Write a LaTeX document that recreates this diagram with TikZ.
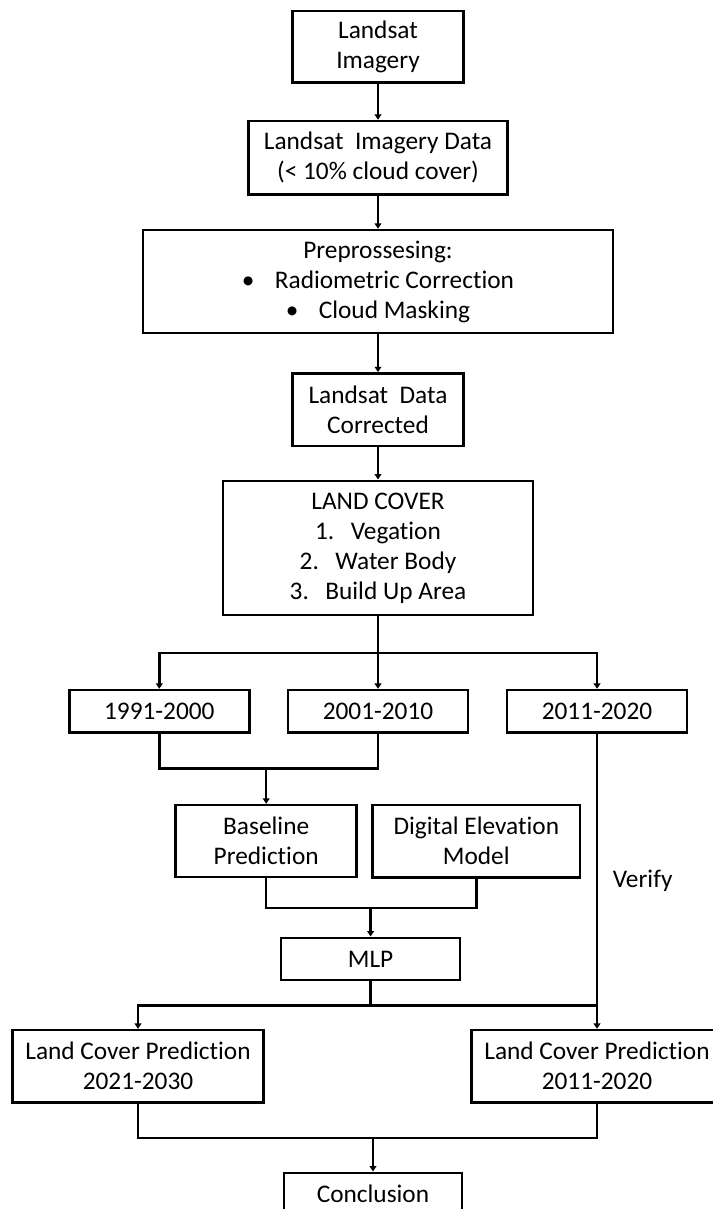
\documentclass[tikz,border=0pt]{standalone}
\usepackage{fontspec}
\setmainfont{Carlito}[Ligatures=NoCommon]
\usetikzlibrary{arrows.meta}

\begin{document}
\begin{tikzpicture}[x=0.75pt, y=-0.75pt,
    stage/.style ={draw, line width=1.9pt, align=center, inner sep=0pt,
      font=\fontsize{19}{22.5}\selectfont},
    note/.style ={inner sep=0pt, font=\fontsize{19}{22.5}\selectfont},
    link/.style ={line width=1.8pt},
    flow/.style ={link, -{Triangle[length=4pt,width=5pt]}}]
   \useasboundingbox (0,0) rectangle (713,1209);
   \clip (0,0) rectangle (713,1209);

   \node[stage, minimum width=128pt, minimum height=53.8pt] (img)   at (378,46.9)  {Landsat\\Imagery};
   \node[stage, minimum width=194.3pt, minimum height=55pt] (data)  at (378,157.7) {Landsat\ \ Imagery Data\\(< 10\% cloud cover)};
   \node[stage, minimum width=352.5pt, minimum height=77.3pt] (prep) at (378,281.5) {Preprossesing:\\\textbullet\hspace{0.8em}Radiometric Correction\\\textbullet\hspace{0.8em}Cloud Masking};
   \node[stage, minimum width=128.3pt, minimum height=54.5pt] (corr) at (378,409.7) {Landsat\ \ Data\\Corrected};
   \node[stage, minimum width=232.5pt, minimum height=100.7pt] (cover) at (378,547.9) {LAND COVER\\1.\hspace{0.65em}Vegation\\2.\hspace{0.65em}Water Body\\3.\hspace{0.65em}Build Up Area};
   \node[stage, minimum width=135pt, minimum height=31.7pt] (y91)  at (159.3,711.2) {1991-2000};
   \node[stage, minimum width=135pt, minimum height=31.7pt] (y01)  at (378,711.2)   {2001-2010};
   \node[stage, minimum width=135pt, minimum height=31.7pt] (y11)  at (597,711.2)   {2011-2020};
   \node[stage, minimum width=135.8pt, minimum height=53.8pt] (base) at (266.2,840.9) {Baseline\\Prediction};
   \node[stage, minimum width=155.5pt, minimum height=54.2pt] (dem)  at (476.3,841.2) {Digital Elevation\\Model};
   \node[stage, minimum width=134.3pt, minimum height=31.7pt] (mlp)  at (370.6,958.9) {MLP};
   \node[stage, minimum width=188pt, minimum height=54.2pt] (lcp1)  at (138,1066.2)  {Land Cover Prediction\\2021-2030};
   \node[stage, minimum width=188pt, minimum height=54.2pt] (lcp2)  at (597,1066.2)  {Land Cover Prediction\\2011-2020};
   \node[stage, minimum width=133.8pt, minimum height=31.7pt] (concl) at (373,1193.9) {Conclusion};

   \coordinate (bus) at (378,652.7);
   \coordinate (j1)  at (266.2,768.3);
   \coordinate (j2)  at (370.6,908);
   \coordinate (j3)  at (370.6,1005.3);
   \coordinate (j4)  at (373,1137.7);

   \draw[flow] (img) to (data);
   \draw[flow] (data) to (prep);
   \draw[flow] (prep) to (corr);
   \draw[flow] (corr) to (cover);
   \draw[flow] (cover) to (y01);
   \draw[flow] (bus) -| (y91);
   \draw[flow] (bus) -| (y11);
   \draw[link] (y91) |- (j1) -| (y01);
   \draw[flow] (j1) to (base);
   \draw[link] (base) |- (j2) -| (dem);
   \draw[flow] (j2) to (mlp);
   \draw[link] (mlp) to (j3);
   \draw[flow] (j3) -| (lcp1);
   \draw[link] (j3) -- (j3 -| lcp2.north);
   \draw[flow] (y11) to node[note, right=11pt] (verify) {Verify} (lcp2);
   \draw[link] (lcp1) |- (j4) -| (lcp2);
   \draw[flow] (j4) to (concl);
 \end{tikzpicture}
\end{document}
